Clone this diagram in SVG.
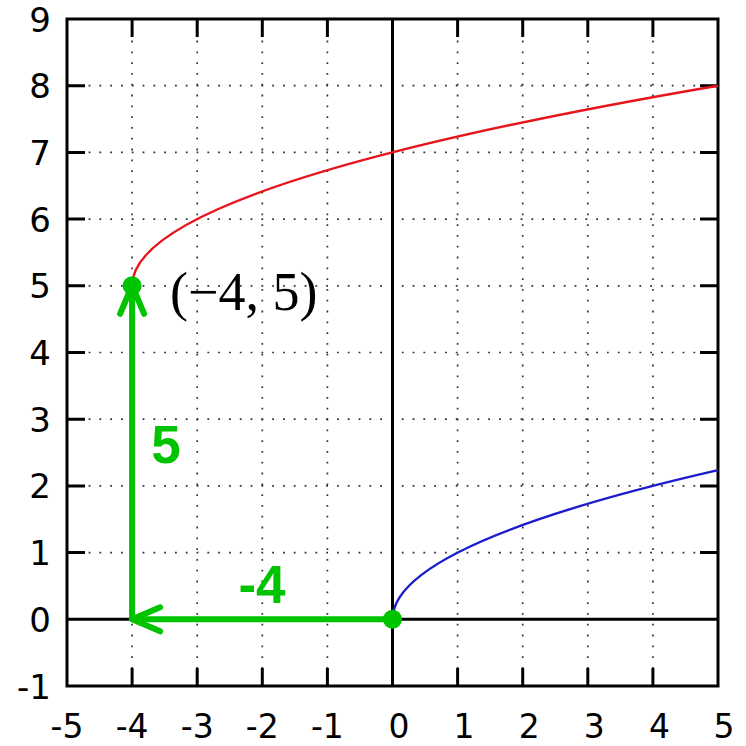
<svg xmlns="http://www.w3.org/2000/svg" width="746" height="746" viewBox="0 0 746 746">
<style>
.grid{stroke:#333;stroke-width:1.7;stroke-dasharray:1.8 9;fill:none}
.axis{stroke:#000;stroke-width:3;fill:none}
.frame{stroke:#000;stroke-width:3;fill:none}
.tick{stroke:#000;stroke-width:3}
.lbl{font-family:"DejaVu Sans",Verdana,sans-serif;font-size:34px;fill:#000}
.xl{text-anchor:middle;font-size:33px}
.yl{text-anchor:end}
.red{stroke:#e8141c;stroke-width:2.5;fill:none}
.blue{stroke:#1c1ccc;stroke-width:2.5;fill:none}
.g{stroke:#00c400;stroke-width:6;fill:none;stroke-linecap:butt}
.gdot{fill:#00c400}
.gtxt{font-family:"Liberation Sans",Arial,sans-serif;font-weight:bold;font-size:53px;fill:#00c400;text-anchor:middle}
.pt{font-family:"Liberation Serif","Times New Roman",serif;font-size:54px;fill:#000}
</style>
<defs>
<marker id="arr" markerUnits="userSpaceOnUse" markerWidth="60" markerHeight="60" viewBox="-40 -30 60 60" refX="0" refY="0" orient="auto" overflow="visible">
<path d="M -28 -12 L 0 0 L -28 12" fill="none" stroke="#00c400" stroke-width="6" stroke-linecap="round" stroke-linejoin="round"/>
</marker>
</defs>
<rect width="746" height="746" fill="#fff"/>
<g id="grid">
<path class="grid" d="M132.1 19V686M197.2 19V686M262.3 19V686M327.4 19V686M457.6 19V686M522.7 19V686M587.8 19V686M652.9 19V686"/>
<path class="grid" d="M67 552.6H718M67 485.9H718M67 419.2H718M67 352.5H718M67 285.8H718M67 219.1H718M67 152.4H718M67 85.7H718"/>
</g>
<g id="ticks">
<path class="tick" d="M132.1 686v-18M197.2 686v-18M262.3 686v-18M327.4 686v-18M457.6 686v-18M522.7 686v-18M587.8 686v-18M652.9 686v-18
M132.1 19v18M197.2 19v18M262.3 19v18M327.4 19v18M457.6 19v18M522.7 19v18M587.8 19v18M652.9 19v18
M67 552.6h18M67 485.9h18M67 419.2h18M67 352.5h18M67 285.8h18M67 219.1h18M67 152.4h18M67 85.7h18
M718 552.6h-18M718 485.9h-18M718 419.2h-18M718 352.5h-18M718 285.8h-18M718 219.1h-18M718 152.4h-18M718 85.7h-18"/>
</g>
<g id="axes">
<path class="axis" d="M392.5 19V686M67 619.3H718"/>
<rect class="frame" x="67" y="19" width="651" height="667"/>
</g>
<g id="xlabels" class="lbl xl">
<text x="67" y="738">-5</text>
<text x="132.1" y="738">-4</text>
<text x="197.2" y="738">-3</text>
<text x="262.3" y="738">-2</text>
<text x="327.4" y="738">-1</text>
<text x="399" y="738">0</text>
<text x="464.1" y="738">1</text>
<text x="529.2" y="738">2</text>
<text x="594.3" y="738">3</text>
<text x="659.4" y="738">4</text>
<text x="724" y="738">5</text>
</g>
<g id="ylabels" class="lbl yl">
<text x="51" y="698.5">-1</text>
<text x="51" y="631.8">0</text>
<text x="51" y="565.1">1</text>
<text x="51" y="498.4">2</text>
<text x="51" y="431.7">3</text>
<text x="51" y="365">4</text>
<text x="51" y="298.3">5</text>
<text x="51" y="231.6">6</text>
<text x="51" y="164.9">7</text>
<text x="51" y="98.2">8</text>
<text x="51" y="31.5">9</text>
</g>
<g id="curves">
<path id="red-curve" class="red" d="M132.1 285.8Q132.1 185.75 718 85.7"/>
<path id="blue-curve" class="blue" d="M392.5 619.3Q392.5 544.7 718 470.15"/>
</g>
<g id="connectors">
<path class="g" d="M392.5 619.3H132.1" marker-end="url(#arr)"/>
<path class="g" d="M132.1 619.3V285.8" marker-end="url(#arr)"/>
</g>
<g id="node-origin"><circle class="gdot" cx="392.5" cy="619.3" r="9.5"/></g>
<g id="node-point"><circle class="gdot" cx="132.1" cy="285.8" r="9.5"/>
<text class="pt" x="170" y="310">(−4, 5)</text></g>
<g id="labels">
<text class="gtxt" x="166" y="463">5</text>
<text class="gtxt" x="262" y="603">-4</text>
</g>
</svg>
